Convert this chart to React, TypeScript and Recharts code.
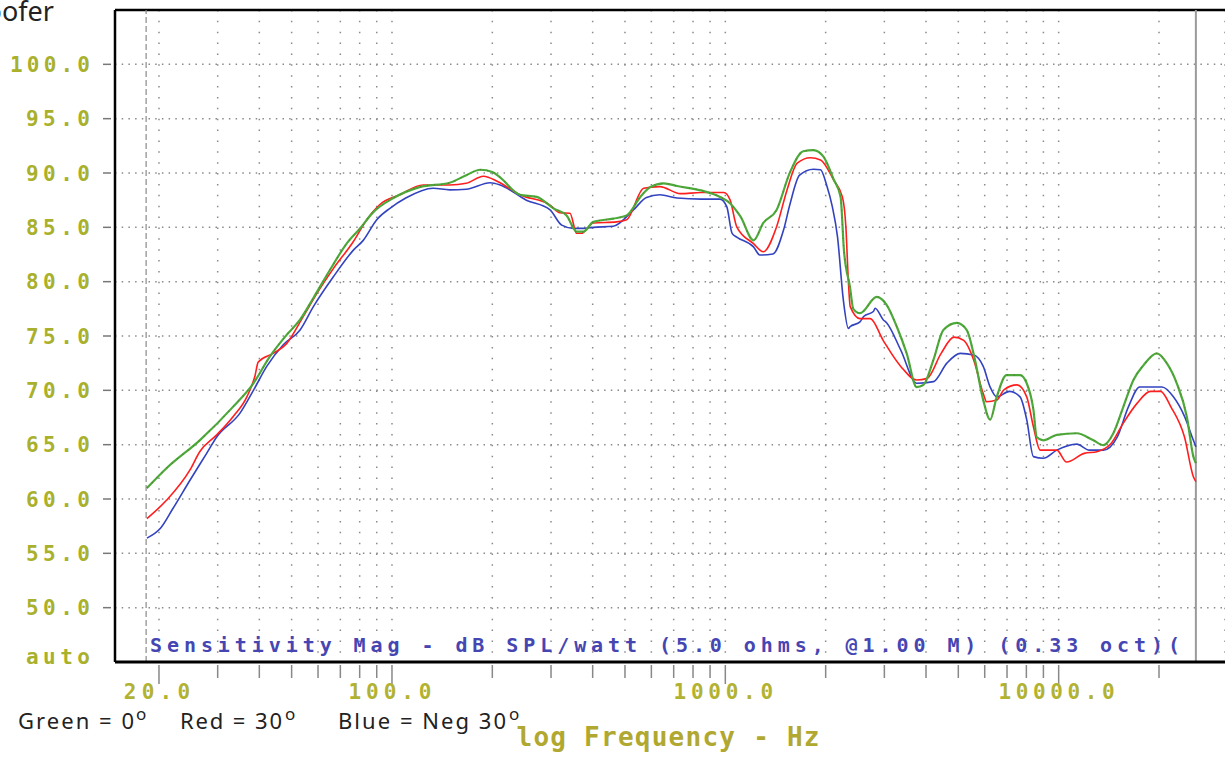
import React from "react";
import {
  LineChart,
  Line,
  XAxis,
  YAxis,
  CartesianGrid,
  ReferenceLine,
  Label,
} from "recharts";

// Frequency (Hz) / level (dB), one pair of lists per curve
const greenHz = [18.4, 21.1, 26.5, 33.4, 38.4, 43, 48.3, 53, 58.1, 65.2, 73.1, 80.2, 87.9, 101, 121, 149, 167, 184, 200, 211, 242, 272, 305, 334, 358, 375, 402, 461, 506, 556, 595, 654, 717, 846, 964, 1034, 1110, 1215, 1300, 1425, 1565, 1713, 1838, 1970, 2114, 2217, 2269, 2366, 2420, 2535, 2845, 3050, 3270, 3500, 3750, 3930, 4210, 4510, 4950, 5300, 5610, 5940, 6230, 6520, 6980, 7660, 8020, 8400, 8590, 8990, 9870, 11330, 12710, 13620, 14590, 15640, 16760, 17960, 19700, 21100, 22610, 24230, 25360, 25800];
const greenDb = [61.0, 62.85, 65.4, 68.5, 70.65, 73.1, 75.1, 76.5, 78.5, 81.1, 83.5, 84.9, 86.4, 87.7, 88.7, 89.1, 89.8, 90.3, 90.1, 89.6, 88.0, 87.8, 86.75, 86.1, 84.6, 84.6, 85.5, 85.8, 86.1, 87.8, 88.7, 89.05, 88.8, 88.4, 87.8, 87.2, 86.0, 83.8, 85.4, 86.6, 90.1, 92.0, 92.1, 91.5, 89.4, 87.8, 82.9, 79.5, 77.5, 77.1, 78.6, 77.85, 75.85, 73.4, 70.3, 70.5, 72.8, 75.55, 76.2, 75.55, 72.8, 69.1, 67.3, 69.4, 71.4, 71.4, 70.65, 68.2, 65.7, 65.4, 65.9, 66.05, 65.4, 64.95, 66.05, 68.5, 70.95, 72.3, 73.4, 72.5, 70.65, 67.6, 63.9, 63.3];

const redHz = [18.4, 21.1, 24.8, 26.5, 29.8, 33.4, 36.7, 38.8, 39.7, 44, 48.3, 54.2, 59.5, 66.7, 76.6, 84, 92, 105.6, 124, 149, 167, 188, 208, 242, 298, 319, 342, 358, 370, 402, 472, 506, 569, 636, 733, 846, 990, 1034, 1082, 1215, 1300, 1425, 1530, 1643, 1800, 1930, 2114, 2245, 2300, 2340, 2370, 2535, 2720, 2975, 3360, 3750, 4030, 4440, 4850, 5190, 5560, 5940, 6080, 6520, 6850, 7500, 8020, 8400, 8800, 9870, 10560, 11930, 13020, 14360, 15640, 17180, 18860, 20220, 21690, 23850, 25360, 25800];
const redDb = [58.2, 59.9, 62.7, 64.35, 65.9, 67.6, 69.4, 71.3, 72.6, 73.4, 74.3, 76.8, 78.9, 81.2, 83.7, 85.7, 87.1, 88.0, 88.9, 88.9, 89.05, 89.7, 89.2, 88.0, 87.05, 86.35, 86.3, 84.45, 84.45, 85.4, 85.5, 85.7, 88.6, 88.75, 88.1, 88.2, 88.2, 87.5, 85.05, 83.5, 82.75, 85.05, 88.4, 90.9, 91.4, 91.2, 89.35, 87.8, 85.0, 80.0, 77.7, 76.6, 76.6, 74.6, 72.2, 70.95, 71.1, 73.4, 74.9, 74.6, 72.8, 69.7, 68.95, 69.1, 70.05, 70.5, 69.4, 66.65, 64.5, 64.5, 63.4, 64.2, 64.35, 65.1, 67.0, 68.8, 69.9, 69.9, 68.5, 65.7, 62.05, 61.6];

const blueHz = [18.4, 20.2, 22.0, 24.8, 27.8, 29.8, 35, 38.4, 42.1, 47.2, 53, 58.1, 66.7, 76.6, 82, 90, 98.6, 110, 133, 149, 167, 197, 211, 253, 298, 323, 350, 375, 402, 461, 530, 580, 636, 717, 846, 964, 1010, 1048, 1082, 1215, 1270, 1390, 1495, 1565, 1670, 1838, 1930, 2013, 2094, 2170, 2260, 2340, 2366, 2535, 2600, 2780, 2815, 2975, 3050, 3360, 3750, 4210, 4620, 5070, 5560, 5940, 6230, 6520, 7120, 7660, 8020, 8400, 8990, 9870, 11330, 12350, 13620, 14980, 16200, 17510, 20420, 22090, 23850, 25360, 25800];
const blueDb = [56.4, 57.3, 59.1, 61.75, 64.2, 65.7, 67.9, 70.0, 72.2, 74.2, 75.55, 77.7, 80.45, 82.9, 83.8, 85.7, 86.75, 87.7, 88.6, 88.45, 88.5, 89.1, 88.9, 87.5, 86.6, 85.2, 84.9, 84.9, 85.0, 85.1, 86.6, 87.75, 88.0, 87.7, 87.6, 87.6, 86.9, 84.45, 84.1, 83.2, 82.45, 82.55, 84.75, 87.2, 89.8, 90.35, 90.3, 88.9, 86.9, 84.15, 78.3, 75.7, 75.85, 76.3, 76.8, 77.25, 77.55, 76.5, 76.2, 73.7, 70.65, 70.8, 72.5, 73.4, 73.25, 72.2, 70.3, 69.4, 69.9, 69.4, 67.3, 63.9, 63.75, 64.5, 65.05, 64.5, 64.5, 65.7, 68.5, 70.3, 70.3, 69.4, 67.6, 65.4, 64.8];

const xTicks = [20, 30, 40, 50, 60, 70, 80, 90, 100, 200, 300, 400, 500, 600, 700, 800, 900, 1000, 2000, 3000, 4000, 5000, 6000, 7000, 8000, 9000, 10000, 20000];
const xLabels = [20, 100, 1000, 10000];
const yTicks = [45, 50, 55, 60, 65, 70, 75, 80, 85, 90, 95, 100];

const X_DOMAIN = [14.76, 31550];
const Y_DOMAIN = [45, 105];
const CURSOR_HZ = 18.3;
const END_HZ = 25800;

const OLIVE = "#a8b02c";
const MONO = "'DejaVu Sans Mono', monospace";

function zip(hz: number[], db: number[]) {
  const n = Math.min(hz.length, db.length);
  const out: { f: number; db: number }[] = [];
  for (let i = 0; i < n; i++) out.push({ f: hz[i], db: db[i] });
  return out;
}

const greenData = zip(greenHz, greenDb);
const redData = zip(redHz, redDb);
const blueData = zip(blueHz, blueDb);

function YTick({ x, y, payload }: any) {
  const v = payload.value as number;
  const txt = v === 45 ? "auto" : v.toFixed(1);
  return (
    <g>
      {v !== 45 && (
        <line x1={x + 13} x2={x + 21} y1={y} y2={y} stroke="#777" strokeWidth={1.5} />
      )}
      <text
        x={x}
        y={v === 45 ? y - 6 : y}
        dy="0.36em"
        textAnchor="end"
        fill={OLIVE}
        fontFamily={MONO}
        fontWeight="bold"
        fontSize={21}
        textLength={txt.length * 16}
        lengthAdjust="spacing"
      >
        {txt}
      </text>
    </g>
  );
}

function XTick({ x, y, payload }: any) {
  const v = payload.value as number;
  const major = xLabels.includes(v);
  const txt = v.toFixed(1);
  return (
    <g>
      <line x1={x} x2={x} y1={y + 3} y2={y + (major ? 22 : 16)} stroke="#888" strokeWidth={1.5} />
      {major && (
        <text
          x={x - 2}
          y={y + 37}
          textAnchor="middle"
          fill="#b2b232"
          fontFamily={MONO}
          fontWeight="bold"
          fontSize={21}
          textLength={txt.length * 16.6}
          lengthAdjust="spacing"
        >
          {txt}
        </text>
      )}
    </g>
  );
}

function AxisTitle(props: any) {
  const vb = props.viewBox || { x: 115, y: 662, width: 1110, height: 95 };
  return (
    <text
      x={vb.x + vb.width / 2 - 2}
      y={vb.y + 84}
      textAnchor="middle"
      fill="#b0a830"
      fontFamily={MONO}
      fontWeight="bold"
      fontSize={26}
      textLength={303}
      lengthAdjust="spacing"
    >
      log Frequency - Hz
    </text>
  );
}

export default function App() {
  return (
    <div style={{ position: "absolute", left: 0, top: 0, width: 1225, height: 757, background: "#fff", overflow: "hidden" }}>
      <LineChart
        width={1225}
        height={757}
        margin={{ top: 10, right: 0, left: 0, bottom: 0 }}
      >
        <CartesianGrid horizontal={false} stroke="#8a8a8a" strokeWidth={1.5} strokeDasharray="1.5 9.37" />
        <CartesianGrid vertical={false} stroke="#8a8a8a" strokeWidth={1.5} strokeDasharray="1.5 5.2" />
        <XAxis
          dataKey="f"
          type="number"
          scale="log"
          domain={X_DOMAIN}
          allowDataOverflow
          ticks={xTicks}
          interval={0}
          height={95}
          tickSize={0}
          tickMargin={0}
          tickLine={false}
          tick={<XTick />}
          axisLine={{ stroke: "#000", strokeWidth: 3 }}
        >
          <Label content={<AxisTitle />} />
        </XAxis>
        <YAxis
          type="number"
          domain={Y_DOMAIN}
          allowDataOverflow
          ticks={yTicks}
          interval={0}
          width={115}
          tickSize={12}
          tickMargin={13}
          tickLine={false}
          tick={<YTick />}
          axisLine={{ stroke: "#000", strokeWidth: 2.5 }}
        />
        <ReferenceLine y={105} stroke="#000" strokeWidth={2.5} />
        <ReferenceLine x={CURSOR_HZ} stroke="#8a8a8a" strokeWidth={1.2} strokeDasharray="6 3" />
        <ReferenceLine x={END_HZ} stroke="#9a9a9a" strokeWidth={2} />
        <Line data={blueData} dataKey="db" type="monotone" stroke="#3343c0" strokeWidth={1.6} dot={false} activeDot={false} isAnimationActive={false} />
        <Line data={redData} dataKey="db" type="monotone" stroke="#ff1e1e" strokeWidth={1.6} dot={false} activeDot={false} isAnimationActive={false} />
        <Line data={greenData} dataKey="db" type="monotone" stroke="#4caa3a" strokeWidth={2.2} dot={false} activeDot={false} isAnimationActive={false} />
        <Line data={greenData} dataKey="db" type="monotone" stroke="#6b5a2a" strokeOpacity={0.55} strokeWidth={1.3} strokeDasharray="1 6" dot={false} activeDot={false} isAnimationActive={false} />
      </LineChart>
      <svg
        width={1225}
        height={757}
        style={{ position: "absolute", left: 0, top: 0, pointerEvents: "none" }}
      >
        <text x={-39} y={21} fontFamily="'Noto Sans', sans-serif" fontSize={27} fill="#222">
          Woofer
        </text>
        <text
          x={150}
          y={652}
          fill="#4646b2"
          fontFamily={MONO}
          fontWeight="bold"
          fontSize={20}
          textLength={1030}
          lengthAdjust="spacing"
        >
          Sensitivity Mag - dB SPL/watt (5.0 ohms, @1.00 M) (0.33 oct)(
        </text>
        <g fontFamily="'Noto Sans', sans-serif" fill="#222">
          <text x={18} y={729} fontSize={22} textLength={116} lengthAdjust="spacing">Green = 0</text>
          <text x={136} y={720} fontSize={17}>o</text>
          <text x={180} y={729} fontSize={22} textLength={102} lengthAdjust="spacing">Red = 30</text>
          <text x={285} y={720} fontSize={17}>o</text>
          <text x={338} y={729} fontSize={22} textLength={168} lengthAdjust="spacing">Blue = Neg 30</text>
          <text x={509} y={720} fontSize={17}>o</text>
        </g>
      </svg>
    </div>
  );
}
